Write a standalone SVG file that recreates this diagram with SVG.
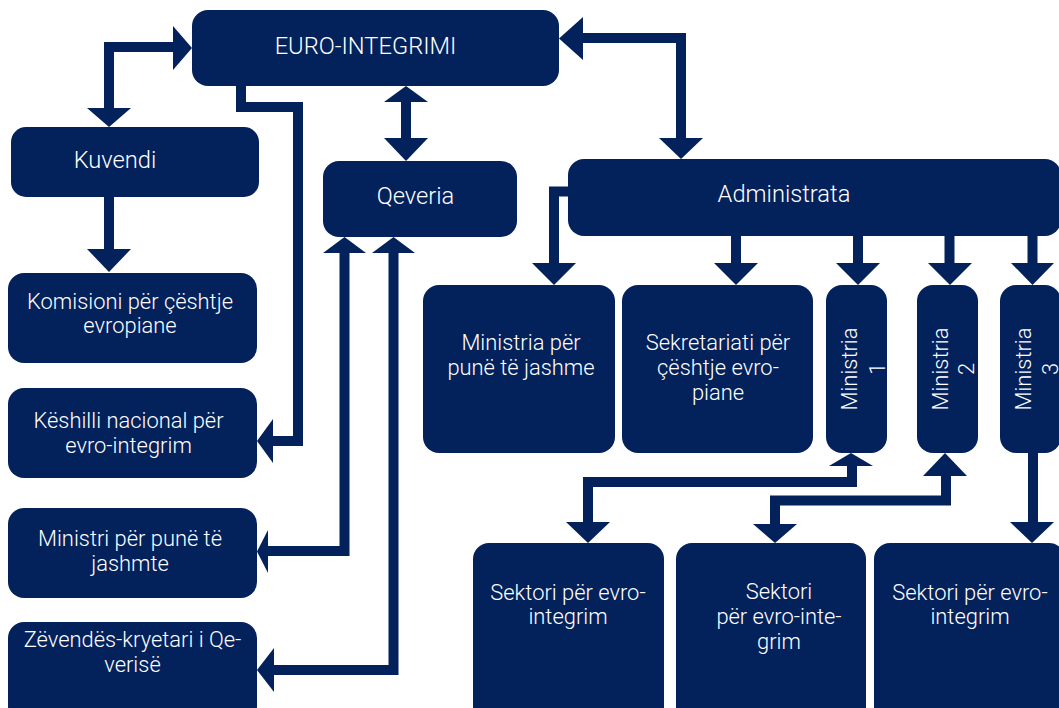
<svg xmlns="http://www.w3.org/2000/svg" width="1059" height="708" viewBox="0 0 1059 708">
<style>
.box{fill:#03215b}
.ln{fill:none;stroke:#03215b;stroke-width:10;stroke-linejoin:miter}
.ah{fill:#03215b}
text{font-family:Roboto,"Liberation Sans",sans-serif;font-weight:300;fill:#ffffff;text-anchor:middle}
.h{font-size:23.7px}
.t{font-size:21.9px}
</style>
<rect width="1059" height="708" fill="#ffffff"/>
<g id="connectors">
<path class="ln" d="M174 47 H109 V109"/>
<polygon class="ah" points="173,26 192,48 173,70"/>
<polygon class="ah" points="87,108 131,108 109,127"/>
<path class="ln" d="M109 197 V250"/>
<polygon class="ah" points="87,249 131,249 109,272"/>
<path class="ln" d="M241 85 V107 H298 V441 H272"/>
<polygon class="ah" points="273,419 257,441 273,463"/>
<path class="ln" d="M406 101 V139"/>
<polygon class="ah" points="384,102 406,86 428,102"/>
<polygon class="ah" points="384,138 428,138 406,161"/>
<path class="ln" d="M344.5 252 V551 H267"/>
<polygon class="ah" points="323,253 344.5,237 366,253"/>
<polygon class="ah" points="268,530 257,551.5 268,573"/>
<path class="ln" d="M393.5 252 V670 H273"/>
<polygon class="ah" points="372,253 393.5,237 415,253"/>
<polygon class="ah" points="274,648 257,670 274,692"/>
<path class="ln" d="M582 38 H681 V139"/>
<polygon class="ah" points="583,17 559,38.5 583,60"/>
<polygon class="ah" points="659,138 703,138 681,159"/>
<path class="ln" d="M570 191.5 H554 V264"/>
<polygon class="ah" points="532,263 576,263 554,285"/>
<path class="ln" d="M736 236 V264"/>
<polygon class="ah" points="714,263 758,263 736,285"/>
<path class="ln" d="M858 236 V264"/>
<polygon class="ah" points="836,263 880,263 858,285"/>
<path class="ln" d="M949.5 236 V264"/>
<polygon class="ah" points="928,263 972,263 950,285"/>
<path class="ln" d="M1032.5 236 V264"/>
<polygon class="ah" points="1011,263 1054,263 1032.5,285"/>
<path class="ln" d="M852 465 V482 H588 V523"/>
<polygon class="ah" points="829,466 851,453 873,466"/>
<polygon class="ah" points="566,522 610,522 588,543"/>
<path class="ln" d="M946 475 V500.5 H775 V525"/>
<polygon class="ah" points="923,476 945,453 967,476"/>
<polygon class="ah" points="753,524 797,524 775,543"/>
<path class="ln" d="M1033 453 V523"/>
<polygon class="ah" points="1010,522 1054,522 1032,543"/>
</g>
<g id="n-euro"><rect class="box" x="192" y="10" width="367" height="76" rx="16"/><text class="h" x="365.5" y="54">EURO-INTEGRIMI</text></g>
<g id="n-kuvendi"><rect class="box" x="11" y="127" width="248" height="70" rx="15"/><text class="h" x="115" y="168">Kuvendi</text></g>
<g id="n-komisioni"><rect class="box" x="8" y="273" width="249" height="90" rx="16"/><text class="t" x="130" y="309">Komisioni për çështje</text><text class="t" x="130" y="333">evropiane</text></g>
<g id="n-keshilli"><rect class="box" x="8" y="388" width="249" height="90" rx="16"/><text class="t" x="128.5" y="428">Këshilli nacional për</text><text class="t" x="128.5" y="453">evro-integrim</text></g>
<g id="n-ministri"><rect class="box" x="8" y="508" width="249" height="90" rx="16"/><text class="t" x="130" y="546">Ministri për punë të</text><text class="t" x="130" y="571">jashmte</text></g>
<g id="n-zevendes"><rect class="box" x="8" y="622" width="249" height="100" rx="16"/><text class="t" x="132.5" y="647">Zëvendës-kryetari i Qe-</text><text class="t" x="132.5" y="672">verisë</text></g>
<g id="n-qeveria"><rect class="box" x="323" y="161" width="194" height="76" rx="16"/><text class="h" x="415.5" y="204">Qeveria</text></g>
<g id="n-administrata"><rect class="box" x="568" y="159" width="493" height="77" rx="16"/><text class="h" x="784" y="202">Administrata</text></g>
<g id="n-mpj"><rect class="box" x="423" y="285" width="192" height="168" rx="16"/><text class="t" x="521" y="350">Ministria për</text><text class="t" x="521" y="375">punë të jashme</text></g>
<g id="n-sekretariati"><rect class="box" x="622" y="285" width="191" height="168" rx="16"/><text class="t" x="718" y="350">Sekretariati për</text><text class="t" x="718" y="375">çështje evro-</text><text class="t" x="718" y="400">piane</text></g>
<g id="n-ministria1"><rect class="box" x="826" y="285" width="61" height="168" rx="16"/><g transform="translate(856.5,369) rotate(-90)"><text class="t" x="0" y="0.5">Ministria</text><text class="t" x="0" y="28">1</text></g></g>
<g id="n-ministria2"><rect class="box" x="917" y="285" width="61" height="168" rx="16"/><g transform="translate(947.5,369) rotate(-90)"><text class="t" x="0" y="0">Ministria</text><text class="t" x="0" y="26.5">2</text></g></g>
<g id="n-ministria3"><rect class="box" x="1000" y="285" width="61" height="168" rx="16"/><g transform="translate(1030.5,369) rotate(-90)"><text class="t" x="0" y="0">Ministria</text><text class="t" x="0" y="27.5">3</text></g></g>
<g id="n-sektori1"><rect class="box" x="473" y="543" width="191" height="180" rx="16"/><text class="t" x="568" y="600">Sektori për evro-</text><text class="t" x="568" y="624">integrim</text></g>
<g id="n-sektori2"><rect class="box" x="676" y="543" width="190" height="180" rx="16"/><text class="t" x="779" y="599">Sektori</text><text class="t" x="779" y="624">për evro-inte-</text><text class="t" x="779" y="649">grim</text></g>
<g id="n-sektori3"><rect class="box" x="874" y="543" width="191" height="180" rx="16"/><text class="t" x="970" y="600">Sektori për evro-</text><text class="t" x="970" y="624">integrim</text></g>
</svg>
